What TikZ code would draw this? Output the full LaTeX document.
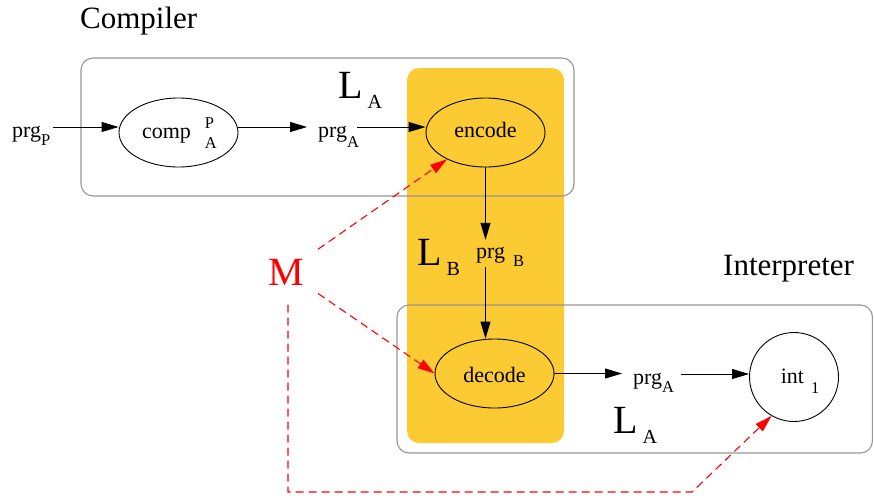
\documentclass[tikz,border=0pt]{standalone}
\usepackage{fontspec}
\setmainfont{Liberation Serif}
\usetikzlibrary{shapes.geometric,arrows.meta}
\definecolor{gold}{RGB}{252,202,50}
\definecolor{boxgray}{RGB}{150,150,150}
\definecolor{mred}{RGB}{255,0,0}

% small lowered index, e.g. prg_A
\newcommand{\lowsub}[2][8pt]{\raisebox{-#1}{\fontsize{16.5}{16.5}\selectfont #2}}
% large language letter with index, e.g. L_A
\newcommand{\Lsub}[1]{{\fontsize{40}{40}\selectfont L}\hspace{5pt}\raisebox{-10pt}{\fontsize{20}{20}\selectfont #1}}

\begin{document}
\begin{tikzpicture}[x=1pt,y=-1pt,
  every node/.style={inner sep=0pt},
  lbl/.style={font=\fontsize{22}{26}\selectfont, text height=20pt, text depth=0pt, anchor=base west},
  title/.style={font=\fontsize{31}{36}\selectfont, anchor=base west},
  lang/.style={anchor=base west},
  proc/.style={ellipse, draw, line width=0.9pt, minimum width=119pt, minimum height=69pt,
    font=\fontsize{22}{26}\selectfont, text depth=0pt},
  region/.style={draw=boxgray, line width=1.1pt, rounded corners=12pt},
  flow/.style={line width=0.9pt, -{Triangle[length=17pt,width=10pt]}},
  meta/.style={draw=mred, line width=1.1pt, dash pattern=on 8pt off 5pt,
    -{Triangle[length=17pt,width=10pt,fill=mred,color=mred]}}
]
\useasboundingbox (0,0) rectangle (874,498);

% shared encoding language B
\fill[gold, rounded corners=12pt] (407,68) rectangle (564,443);

% component frames
\draw[region] (81,58) rectangle (574,196);
\draw[region] (397,305) rectangle (872.4,453);

% titles
\node[title] (tcomp) at (80,28) {Compiler};
\node[title] (tint) at (723,275) {Interpreter};

% language labels
\node[lang] (LAtop) at (338,98) {\Lsub{A}};
\node[lang] (LB) at (417,265) {\Lsub{B}};
\node[lang] (LAbot) at (613,433) {\Lsub{A}};

% processing steps
\node[proc, text height=11pt] (comp) at (178.5,132.5)
  {\hspace{2pt}comp\hspace{14pt}\makebox[0pt][l]{\raisebox{10pt}{\fontsize{16.5}{16.5}\selectfont P}}\raisebox{-10pt}{\fontsize{16.5}{16.5}\selectfont A}};
\node[proc, fill=gold, text height=9pt] (encode) at (485.5,132.5) {encode\hspace{18pt}};
\node[proc, fill=gold, text height=18pt] (decode) at (494.5,373.5) {decode\hspace{14pt}};
\node[circle, draw, line width=0.9pt, minimum size=89pt, font=\fontsize{22}{26}\selectfont,
  text height=12pt, text depth=0pt] (int) at (794,377) {\hspace{12pt}int\hspace{7pt}\lowsub[10pt]{1}};

% programs
\node[lbl] (prgP) at (12,137) {prg\lowsub{P}};
\node[lbl] (prgA) at (318,137) {prg\lowsub[10pt]{A}};
\node[lbl, text height=18pt, text depth=9pt] (prgB) at (476,258) {prg\hspace{8pt}\lowsub{B}};
\node[lbl] (prgA2) at (633,384) {prg\lowsub{A}};

% meta level
\node[font=\fontsize{40}{40}\selectfont, text=mred, text height=27pt, text depth=0pt,
  inner xsep=14pt, inner ysep=19.5pt] (M) at (286,271.5) {M};
\coordinate (bend) at (692,492);

% data flow
\draw[flow, shorten <=2pt] (prgP.east) -- (prgP.east -| comp.west);
\draw[flow, shorten >=11pt] (comp.east |- prgA.west) -- (prgA.west);
\draw[flow, shorten <=-2pt] (prgA.east) -- (prgA.east -| encode.west);
\draw[flow] (encode.south) -- (encode.south |- prgB.north);
\draw[flow] (encode.south |- prgB.south) -- (encode.south |- decode.north);
\draw[flow, shorten >=11pt] (decode.east) -- (decode.east -| prgA2.west);
\draw[flow, shorten <=7pt] (prgA2.east) -- (prgA2.east -| int.west);

% meta arrows
\draw[meta] (M) -- (encode);
\draw[meta] (M) -- (decode.west);
\draw[meta] ([xshift=2pt]M.south) |- (bend) -- (int.240);
\end{tikzpicture}
\end{document}
